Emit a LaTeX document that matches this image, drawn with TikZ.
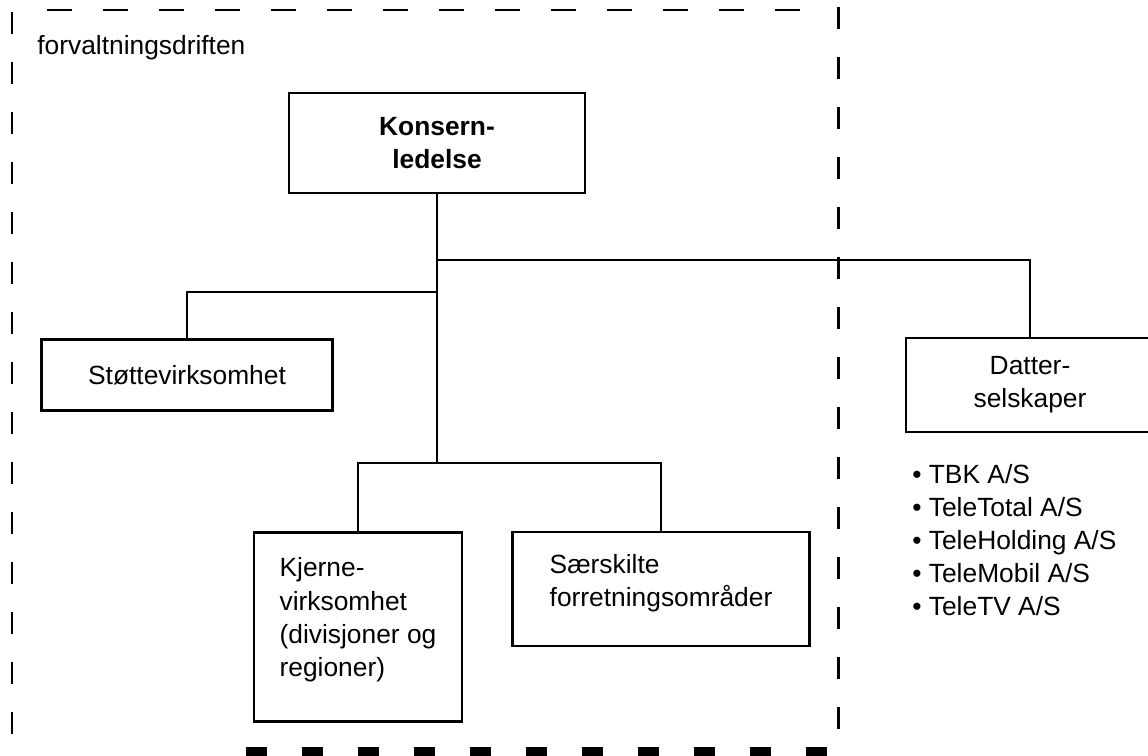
\documentclass[tikz,border=0pt]{standalone}
\usepackage{fontspec}
\setmainfont{Liberation Sans}
\tikzset{
  unit/.style={draw, line width=0.055cm, inner sep=0pt,
    font=\fontsize{15}{18.8}\selectfont},
  link/.style={line width=0.055cm},
  frameside/.style={line width=0.06cm, dash pattern=on 0.44cm off 0.56cm},
  frametop/.style={line width=0.055cm, dash pattern=on 0.5cm off 0.62cm},
  framebottom/.style={line width=0.2cm, dash pattern=on 0.42cm off 0.7cm},
}
\begin{document}
\begin{tikzpicture}[x=0.02cm,y=-0.02cm]
\useasboundingbox (0,0) rectangle (1148,756);
% frame round the administration
\draw[frametop] (47,10) -- (800,10);
\draw[frameside] (12,12) -- (12,735);
\draw[frameside] (838,7) -- (838,735);
\draw[framebottom] (246,752) -- (830,752);
\node[font=\fontsize{15}{18.8}\selectfont, inner sep=0pt, anchor=base west] (forvaltning) at (37,55) {forvaltningsdriften};

\node[unit, font=\fontsize{15}{18.8}\selectfont\bfseries, align=center, minimum width=5.92cm, minimum height=2cm] (konsern) at (437,143) {Konsern-\\ledelse};
\node[unit, minimum width=5.82cm, minimum height=1.42cm] (stotte) at (187,375) {Støttevirksomhet};
\node[unit, align=center, minimum width=4.96cm, minimum height=1.88cm] (datter) at (1030,385) {Datter-\\selskaper};
\node[unit, align=left, minimum width=4.16cm, minimum height=3.78cm] (kjerne) at (358,627) {Kjerne-\\virksomhet\\(divisjoner og\\regioner)\\[-0.26cm]\mbox{}};
\node[unit, align=left, minimum width=5.94cm, minimum height=2.28cm] (saerskilte) at (661,589) {Særskilte\\forretningsområder\\[-0.3cm]\mbox{}};
\node[font=\fontsize{15}{18.8}\selectfont, inner sep=0pt, align=left, anchor=west] (selskaper) at (912,540) {• TBK A/S\\• TeleTotal A/S\\• TeleHolding A/S\\• TeleMobil A/S\\• TeleTV A/S};

% tree
\coordinate (tapR) at (437,260);
\coordinate (tapL) at (437,292);
\coordinate (hub) at (437,463);
\draw[link] (konsern.south) -- (hub);
\draw[link] (tapR) -| (datter);
\draw[link] (tapL) -| (stotte);
\draw[link] (kjerne) |- (hub) -| (saerskilte);
\end{tikzpicture}
\end{document}
